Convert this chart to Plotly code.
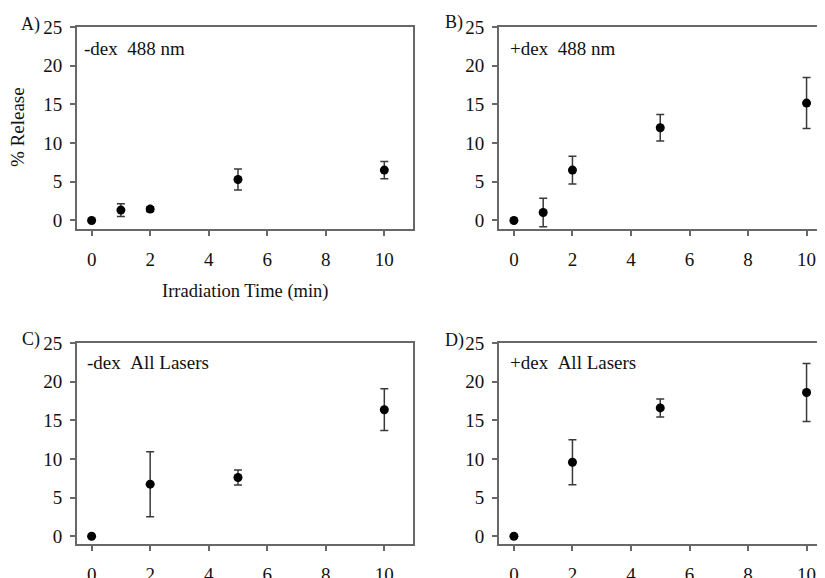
import plotly.graph_objects as go

# ---- data ----
time_488 = [0, 1, 2, 5, 10]
time_all = [0, 2, 5, 10]

release_A = [0.0, 1.34, 1.47, 5.30, 6.51]
err_A = [0.0, 0.82, 0.30, 1.35, 1.12]

release_B = [0.0, 1.03, 6.51, 11.98, 15.17]
err_B = [0.0, 1.85, 1.80, 1.70, 3.30]

release_C = [0.0, 6.74, 7.60, 16.37]
err_C = [0.0, 4.20, 0.97, 2.70]

release_D = [0.0, 9.58, 16.60, 18.60]
err_D = [0.0, 2.90, 1.17, 3.75]

panel_labels = ["A)", "B)", "C)", "D)"]
panel_texts = ["-dex  488 nm", "+dex  488 nm", "-dex  All Lasers", "+dex  All Lasers"]
x_ticks = [0, 2, 4, 6, 8, 10]
y_ticks = [0, 5, 10, 15, 20, 25]

PAGE_W, PAGE_H = 825, 578
OFF = 8  # page body margin
W, H = PAGE_W - OFF, PAGE_H - OFF
FONT = "Liberation Serif, Times New Roman, serif"
AXC = "#686868"
TXT = "#111"

fig = go.Figure()

panels = [
    (time_488, release_A, err_A),
    (time_488, release_B, err_B),
    (time_all, release_C, err_C),
    (time_all, release_D, err_D),
]

def fx(px):
    return (px - OFF) / W

def fy(py):
    return 1 - (py - OFF) / H

# pixel geometry of plot boxes (page coordinates)
left_px = [77, 499, 77, 499]
right_px = [413, PAGE_W, 413, PAGE_W]
top_px = [27, 27, 343, 343]
bot_px = [229, 229, 544, 544]
xranges = [[-0.5, 10.98], [-0.51, 10.63], [-0.5, 10.98], [-0.51, 10.63]]
yranges = [[-1.1, 25], [-1.1, 25], [-1.0, 25], [-1.0, 25]]

for i, (xs, ys, es) in enumerate(panels):
    n = i + 1
    xa = "x" if n == 1 else f"x{n}"
    ya = "y" if n == 1 else f"y{n}"
    fig.add_trace(go.Scatter(
        x=xs, y=ys, mode="markers", xaxis=xa, yaxis=ya,
        marker=dict(color="black", size=9),
        error_y=dict(type="data", array=es, visible=True, color="#3a3a3a",
                     thickness=1.5, width=4),
        showlegend=False, hoverinfo="skip", cliponaxis=False,
    ))
    xkey = "xaxis" if n == 1 else f"xaxis{n}"
    ykey = "yaxis" if n == 1 else f"yaxis{n}"
    rightside = n in (1, 3)
    fig.update_layout(**{
        xkey: dict(
            domain=[fx(left_px[i]), min(1.0, fx(right_px[i]))],
            range=xranges[i], anchor=ya, automargin=False,
            tickvals=x_ticks, ticks="outside", ticklen=5, tickwidth=1.5,
            tickcolor=AXC, showline=True, linecolor=AXC, linewidth=1.8,
            mirror=True, showgrid=False, zeroline=False,
            tickfont=dict(family=FONT, size=19, color=TXT),
            ticklabelstandoff=7,
        ),
        ykey: dict(
            domain=[fy(bot_px[i]), fy(top_px[i])],
            range=yranges[i], anchor=xa, automargin=False,
            tickvals=y_ticks, ticks="outside", ticklen=5, tickwidth=1.5,
            tickcolor=AXC, showline=True, linecolor=AXC, linewidth=1.8,
            mirror=rightside, showgrid=False, zeroline=False,
            tickfont=dict(family=FONT, size=19, color=TXT),
            ticklabelstandoff=4,
        ),
    })

annotations = []
# panel letters
label_pos = [(19, 25), (443, 23), (20, 339), (443, 340)]
for (px, py), t in zip(label_pos, panel_labels):
    annotations.append(dict(text=t, x=fx(px), y=fy(py), xref="paper", yref="paper",
                            xanchor="left", yanchor="middle", showarrow=False,
                            font=dict(family=FONT, size=18, color=TXT)))
# inside texts
text_pos = [(82, 48), (508, 48), (85, 362), (508, 362)]
for (px, py), t in zip(text_pos, panel_texts):
    annotations.append(dict(text=t.replace("  ", "&nbsp;&nbsp;"), x=fx(px), y=fy(py),
                            xref="paper", yref="paper",
                            xanchor="left", yanchor="middle", showarrow=False,
                            font=dict(family=FONT, size=19, color=TXT)))
# axis titles
annotations.append(dict(text="Irradiation Time (min)", x=fx(245), y=fy(291),
                        xref="paper", yref="paper", xanchor="center", yanchor="middle",
                        showarrow=False, font=dict(family=FONT, size=18.5, color=TXT)))
annotations.append(dict(text="% Release", x=fx(18), y=fy(127), textangle=-90,
                        xref="paper", yref="paper", xanchor="center", yanchor="middle",
                        showarrow=False, font=dict(family=FONT, size=19, color=TXT)))

fig.update_layout(
    width=W, height=H,
    margin=dict(l=0, r=0, t=0, b=0, autoexpand=False),
    paper_bgcolor="white", plot_bgcolor="white",
    annotations=annotations,
)

fig.write_html("out.html")
